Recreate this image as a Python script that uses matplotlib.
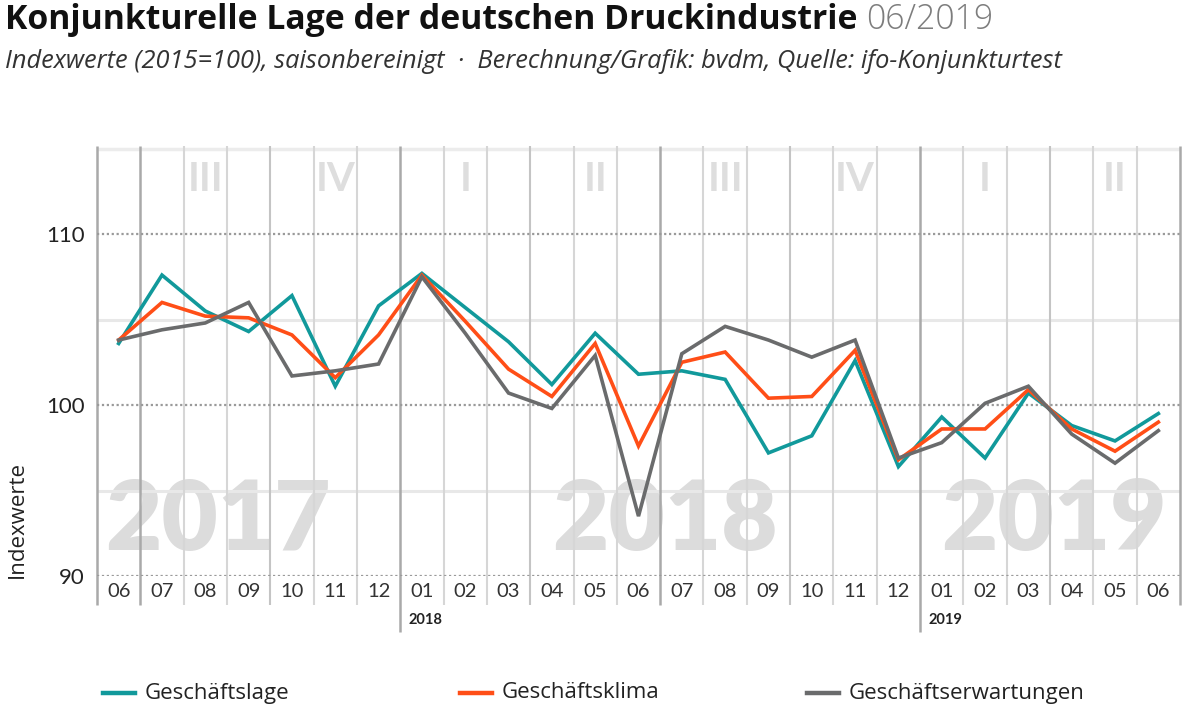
import matplotlib
matplotlib.use("Agg")
import matplotlib.pyplot as plt
from matplotlib.lines import Line2D
import matplotlib.transforms as mtransforms

plt.rcParams['font.family'] = ['Lato', 'DejaVu Sans']
WIDE = ["Open Sans", "DejaVu Sans"]

# data
months = ["06", "07", "08", "09", "10", "11", "12",
          "01", "02", "03", "04", "05", "06", "07", "08", "09", "10", "11", "12",
          "01", "02", "03", "04", "05", "06"]
lage = [103.6, 107.6, 105.5, 104.3, 106.4, 101.1, 105.8,
        107.7, 105.7, 103.7, 101.2, 104.2, 101.8, 102.0, 101.5, 97.2, 98.2, 102.6, 96.4,
        99.3, 96.9, 100.7, 98.8, 97.9, 99.5]
klima = [103.8, 106.0, 105.2, 105.1, 104.1, 101.6, 104.1,
         107.6, 104.9, 102.1, 100.5, 103.6, 97.6, 102.5, 103.1, 100.4, 100.5, 103.2, 96.8,
         98.6, 98.6, 100.9, 98.6, 97.3, 99.0]
erwartungen = [103.8, 104.4, 104.8, 106.0, 101.7, 102.0, 102.4,
               107.5, 104.2, 100.7, 99.8, 102.9, 93.5, 103.0, 104.6, 103.8, 102.8, 103.8, 96.9,
               97.8, 100.1, 101.1, 98.3, 96.6, 98.5]
quarters = ["III", "IV", "I", "II", "III", "IV", "I", "II"]
years = ["2017", "2018", "2019"]
new_years = ["2018", "2019"]

series = [("Geschäftslage", lage, "#11999b"),
          ("Geschäftsklima", klima, "#ff4e17"),
          ("Geschäftserwartungen", erwartungen, "#6a6b6c")]

fig = plt.figure(figsize=(12, 7.12), dpi=100)
ax = fig.add_axes([97/1200, 1 - 576/712, (1180 - 97)/1200, 430/712])
n = len(months)
ax.set_xlim(-0.5, n - 0.5)
ax.set_ylim(90, 115.15)
for s in ax.spines.values():
    s.set_visible(False)

trans = mtransforms.blended_transform_factory(ax.transData, ax.transAxes)

# horizontal grid
for y in [95, 105]:
    ax.axhline(y, color="#e8e8e8", lw=2.2, zorder=1)
ax.axhline(115.0, color="#ececec", lw=2.5, zorder=1)
for y in [90, 100, 110]:
    ax.axhline(y, color="#9a9a9a", lw=1.6, ls=(0, (1, 1.2)), zorder=1.5)

# vertical month boundaries
for i in range(n + 1):
    xb = i - 0.5
    m = (6 + i - 1) % 12 + 1  # month starting at this boundary
    if m in (1, 7) or i in (0, n):
        col, lw = "#a9a9a9", 1.8
    elif m in (4, 10):
        col, lw = "#c4c4c4", 1.5
    else:
        col, lw = "#d6d6d6", 1.5
    bottom = -0.068
    if m == 1 and 0 < i < n:
        bottom = -0.13
    ax.plot([xb, xb], [bottom, 1.0], transform=trans, color=col, lw=lw,
            clip_on=False, zorder=1, solid_capstyle="butt")

# watermarks
for label, xc in zip(years, [2.3, 12.6, 21.6]):
    ax.text(xc, 93.2, label, ha="center", va="center", fontsize=70,
            fontweight="heavy", color="#dcdcdc", zorder=0.5)
for k, q in enumerate(quarters):
    ax.text(2 + 3*k, 113.2, q, ha="center", va="center", fontsize=29,
            fontweight="bold", color="#dedede", zorder=0.5)

# series
for name, vals, col in series:
    ax.plot(range(n), vals, color=col, lw=2.6, zorder=3, solid_joinstyle="miter")

# ticks
ax.set_xticks([])
ax.set_yticks([90, 100, 110])
ax.set_yticklabels(["90", "100", "110"], fontsize=16, color="#222222")
ax.tick_params(axis="y", length=0, pad=9)
for i, m in enumerate(months):
    ax.text(i, -0.037, m, transform=trans, ha="center", va="center",
            fontsize=14.5, color="#333333")
k = 0
for i, m in enumerate(months):
    if m == "01" and i > 0:
        ax.text(i - 0.5 + 0.2, -0.103, new_years[k], transform=trans,
                ha="left", va="center", fontsize=10.5, fontweight="bold", color="#222222")
        k += 1

fig.text(17/1200, 1 - 520/712, "Indexwerte", rotation=90, ha="center", va="center",
         fontsize=16, family=WIDE, color="#222222")


def fit(txt, width):
    # scale the font so the text fills the given pixel width
    fig.canvas.draw()
    w = txt.get_window_extent().width
    txt.set_fontsize(txt.get_fontsize() * width / w)


# title
t = fig.text(5/1200, 1 - 20/712, "Konjunkturelle Lage der deutschen Druckindustrie",
             fontsize=22, fontweight="bold", family=WIDE,
             color="#111111", va="center", ha="left")
fit(t, 852)
fig.canvas.draw()
bb = t.get_window_extent()
fig.text((bb.x1 + 9)/1200, 1 - 20/712, "06/2019", fontsize=t.get_fontsize(),
         fontweight="light", family=WIDE, color="#7d7d7d", va="center", ha="left")
st = fig.text(5/1200, 1 - 62/712,
              "Indexwerte (2015=100), saisonbereinigt  ·  Berechnung/Grafik: bvdm, Quelle: ifo-Konjunkturtest",
              fontsize=14, style="italic", family=WIDE,
              color="#333333", va="center", ha="left")
fit(st, 1063)

# legend
for (name, vals, col), xs in zip(series, [103, 460, 807]):
    fig.add_artist(Line2D([xs/1200, (xs + 32)/1200], [1 - 693/712]*2, color=col, lw=3.2))
    fig.text((xs + 42)/1200, 1 - 693/712, name, fontsize=16, family=WIDE,
             color="#222222", va="center", ha="left")

fig.savefig("out.png", dpi=100)
